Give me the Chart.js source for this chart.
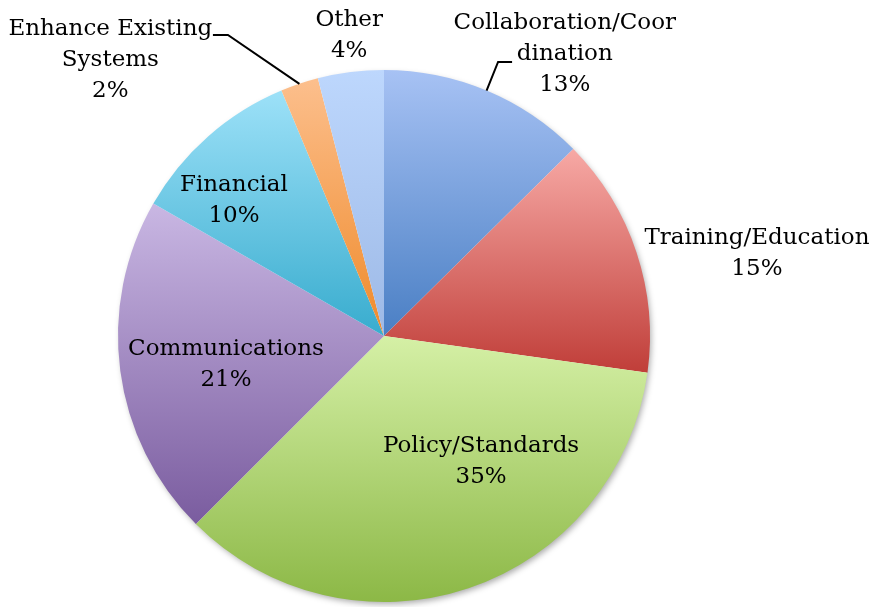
<!DOCTYPE html>
<html lang="en">
<head>
    <meta charset="UTF-8">
    <title>Pie</title>
    <script src="https://cdn.jsdelivr.net/npm/chart.js"></script>
    <style>
        html, body { margin: 0; padding: 0; background: #fff; }
        .wrap { width: 875px; height: 607px; }
    </style>
</head>
<body>
    <div class="wrap"><canvas id="pieChart" width="875" height="607"></canvas></div>
<script>
    // data
    const labels = ["Collaboration/Coordination", "Training/Education", "Policy/Standards",
        "Communications", "Financial", "Enhance Existing Systems", "Other"];
    const values = [12.6, 14.6, 35.3, 20.8, 10.4, 2.3, 4.0];
    // how each label is written (line breaks as in the picture)
    const labelLines = [
        ["Collaboration/Coor", "dination"],
        ["Training/Education"],
        ["Policy/Standards"],
        ["Communications"],
        ["Financial"],
        ["Enhance Existing", "Systems"],
        ["Other"]
    ];

    // gradient colours, light (top) -> dark (bottom)
    const lightColors = ["#a7c2f4", "#f7a9a5", "#d5f0a6", "#c9b7e3", "#9de1f8", "#fcbf8d", "#bdd7fd"];
    const darkColors = ["#4a7fc4", "#c03e39", "#8cb846", "#7a5c9f", "#38acce", "#ef8a2a", "#9db9e6"];

    // label placement: angle (deg from top, clockwise), distance in radii
    const labelPos = [[32.7, 1.258], [77.5, 1.436], [142.4, 0.598], [259.6, 0.604], [312, 0.759], [315.2, 1.46], [353.4, 1.139]];
    // leader lines: [angle of elbow, radius of elbow, horizontal tail] or null
    const leaders = [[22.6, 1.116, 14], null, null, null, null, [332.6, 1.275, -15], null];

    const FONT = "23px 'DejaVu Serif'";
    const LINE_H = 31;

    function polar(arc, deg, f) {
        const a = deg * Math.PI / 180;
        return { x: arc.x + Math.sin(a) * arc.outerRadius * f, y: arc.y - Math.cos(a) * arc.outerRadius * f };
    }

    const gradientPlugin = {
        id: "sliceGradient",
        beforeDatasetsDraw(chart) {
            const ctx = chart.ctx;
            const meta = chart.getDatasetMeta(0);
            const arc0 = meta.data[0];
            // soft shadow under the pie
            ctx.save();
            ctx.shadowColor = "rgba(0,0,0,0.35)";
            ctx.shadowBlur = 6;
            ctx.shadowOffsetX = 2;
            ctx.shadowOffsetY = 3;
            ctx.fillStyle = "#ffffff";
            ctx.beginPath();
            ctx.arc(arc0.x, arc0.y, arc0.outerRadius - 1, 0, Math.PI * 2);
            ctx.fill();
            ctx.restore();

            meta.data.forEach((arc, i) => {
                const s = arc.startAngle, e = arc.endAngle, r = arc.outerRadius;
                const ys = [arc.y, arc.y + Math.sin(s) * r, arc.y + Math.sin(e) * r];
                [-Math.PI / 2, Math.PI / 2, 3 * Math.PI / 2].forEach(t => {
                    if (t > s && t < e) ys.push(arc.y + Math.sin(t) * r);
                });
                const g = ctx.createLinearGradient(0, Math.min(...ys), 0, Math.max(...ys));
                g.addColorStop(0, lightColors[i]);
                g.addColorStop(1, darkColors[i]);
                arc.options.backgroundColor = g;
            });
        },
        afterDatasetsDraw(chart) {
            const ctx = chart.ctx;
            const meta = chart.getDatasetMeta(0);
            const total = values.reduce((a, b) => a + b, 0);
            ctx.save();
            ctx.font = FONT;
            ctx.fillStyle = "#000";
            ctx.textAlign = "center";
            ctx.textBaseline = "middle";
            meta.data.forEach((arc, i) => {
                const lines = labelLines[i].concat([Math.round(values[i] / total * 100) + "%"]);
                const p = polar(arc, labelPos[i][0], labelPos[i][1]);
                const top = p.y - (lines.length - 1) * LINE_H / 2;
                lines.forEach((t, k) => ctx.fillText(t, p.x, top + k * LINE_H));

                const ld = leaders[i];
                if (ld) {
                    // from the slice's mid angle on the rim out to the elbow
                    const midDeg = ((arc.startAngle + arc.endAngle) / 2 + Math.PI / 2) * 180 / Math.PI;
                    const a = polar(arc, midDeg, 1);
                    const b = polar(arc, ld[0], ld[1]);
                    ctx.strokeStyle = "#000";
                    ctx.lineWidth = 2;
                    ctx.beginPath();
                    ctx.moveTo(a.x, a.y);
                    ctx.lineTo(b.x, b.y);
                    ctx.lineTo(b.x + ld[2], b.y);
                    ctx.stroke();
                }
            });
            ctx.restore();
        }
    };

    new Chart(document.getElementById("pieChart"), {
        type: "pie",
        data: {
            labels: labels,
            datasets: [{
                data: values,
                backgroundColor: lightColors,
                borderWidth: 0
            }]
        },
        options: {
            responsive: false,
            animation: false,
            layout: { padding: { left: 118, right: 225, top: 70, bottom: 5 } },
            plugins: {
                legend: { display: false },
                tooltip: { enabled: false }
            }
        },
        plugins: [gradientPlugin]
    });
</script>
</body>
</html>
